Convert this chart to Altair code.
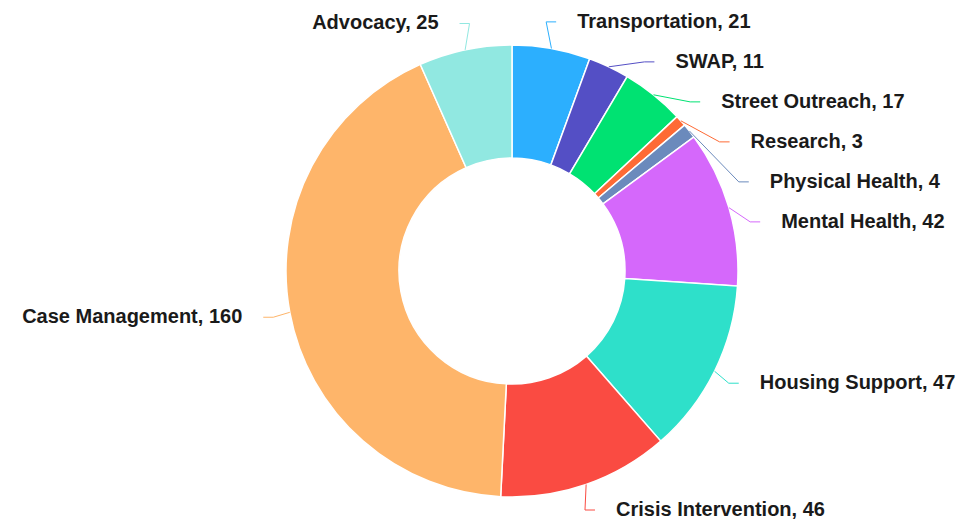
import altair as alt
import pandas as pd

categories = ["Transportation", "SWAP", "Street Outreach", "Research", "Physical Health",
              "Mental Health", "Housing Support", "Crisis Intervention", "Case Management", "Advocacy"]
values = [21, 11, 17, 3, 4, 42, 47, 46, 160, 25]
colors = ["#2caffe", "#544fc5", "#00e272", "#fe6a35", "#6b8abc",
          "#d568fb", "#2ee0ca", "#fa4b42", "#feb56a", "#91e8e1"]

df = pd.DataFrame({"category": categories, "value": values, "order": list(range(len(categories)))})

CX, CY = 504, 263        # donut centre in view pixels
R_OUT, R_IN = 226, 113   # radii
D = 253                  # label circle radius
H = 40                   # min vertical spacing of labels
CROOK = 10
PAD = 21

color = alt.Color("category:N", scale=alt.Scale(domain=categories, range=colors), legend=None)
base = alt.Chart(df)

arcs = base.mark_arc(outerRadius=R_OUT, innerRadius=R_IN, stroke="white", strokeWidth=1.5).encode(
    theta=alt.Theta("value:Q", stack=True),
    order=alt.Order("order:Q"),
    color=color,
    x=alt.value(CX),
    y=alt.value(CY),
)

lab = (
    base.transform_joinaggregate(total="sum(value)")
    .transform_window(cum="sum(value)", sort=[alt.SortField("order")], frame=[None, 0])
    .transform_calculate(mid="(datum.cum - datum.value/2) / datum.total * 2 * PI")
    .transform_calculate(
        side="sin(datum.mid) >= 0 ? 1 : -1",
        ex=f"{CX} + sin(datum.mid) * {R_OUT}",
        ey=f"{CY} - cos(datum.mid) * {R_OUT}",
        ny=f"{CY} - cos(datum.mid) * {D}",
    )
    .transform_window(i="row_number()", groupby=["side"], sort=[alt.SortField("ny")])
    .transform_calculate(t=f"datum.ny - datum.i * {H}")
    .transform_window(m="max(t)", groupby=["side"], sort=[alt.SortField("ny")], frame=[None, 0])
    .transform_calculate(ly=f"datum.i * {H} + datum.m")
    .transform_calculate(ax=f"{CX} + datum.side * sqrt(max({D}*{D} - pow(datum.ly - {CY}, 2), 0))")
    .transform_calculate(
        tx=f"datum.ax + datum.side * {PAD}",
        label="datum.category + ', ' + datum.value",
    )
)

conn = (
    lab.transform_calculate(
        xs=f"[datum.ex, datum.ax - datum.side*{CROOK}, datum.ax]",
        ys="[datum.ey, datum.ly, datum.ly]",
        ks="[0, 1, 2]",
    )
    .transform_flatten(["xs", "ys", "ks"], as_=["px", "py", "k"])
    .mark_line(strokeWidth=1)
    .encode(
        x=alt.X("px:Q", scale=None, axis=None),
        y=alt.Y("py:Q", scale=None, axis=None),
        detail="category:N",
        order="k:Q",
        color=color,
    )
)

text_style = dict(baseline="middle", font="Liberation Sans", fontSize=20, fontWeight="bold", color="#1a1a1a")

right = lab.transform_filter("datum.side > 0").mark_text(align="left", **text_style).encode(
    x=alt.X("tx:Q", scale=None, axis=None),
    y=alt.Y("ly:Q", scale=None, axis=None),
    text="label:N",
)
left = lab.transform_filter("datum.side < 0").mark_text(align="right", **text_style).encode(
    x=alt.X("tx:Q", scale=None, axis=None),
    y=alt.Y("ly:Q", scale=None, axis=None),
    text="label:N",
)

chart = (
    alt.layer(arcs, conn, right, left)
    .properties(width=952, height=512, padding=0, autosize="none")
    .configure_view(stroke=None)
)

chart.save("out.html", embed_options={"renderer": "svg", "actions": False})
